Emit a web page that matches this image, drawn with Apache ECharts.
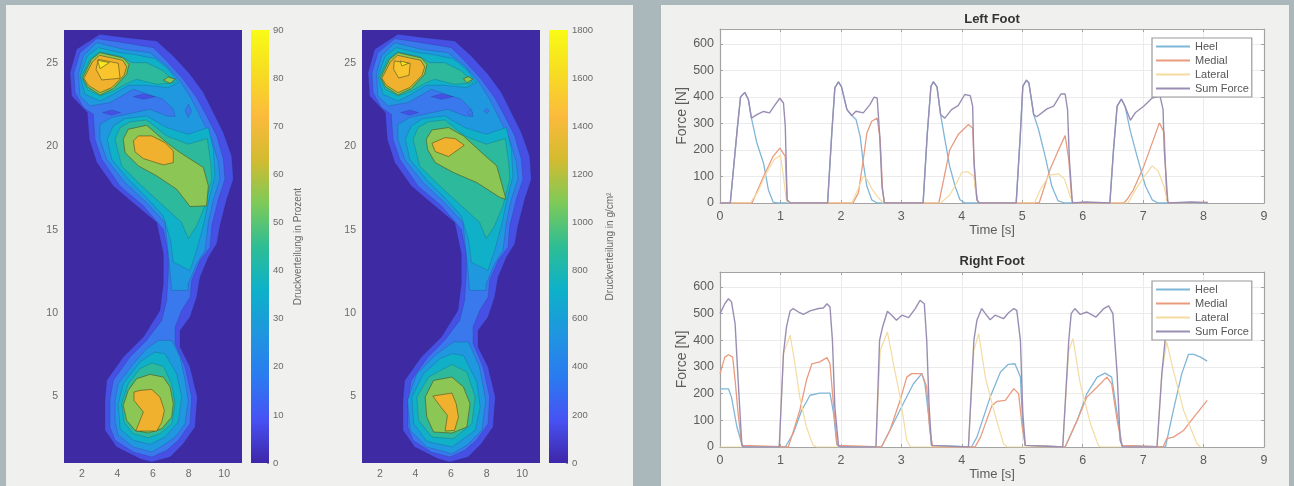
<!DOCTYPE html>
<html><head><meta charset="utf-8">
<style>
html,body{margin:0;padding:0;width:1294px;height:486px;overflow:hidden;background:#aab7bb}
.p{position:absolute;top:5px;height:481px;background:#f0f1ef}
#main{position:absolute;left:0;top:0;width:1294px;height:486px}
</style>
<script src="https://cdn.jsdelivr.net/npm/echarts@6/dist/echarts.min.js"></script>
</head><body>
<div class="p" style="left:6px;width:627px"></div>
<div class="p" style="left:661px;width:628px"></div>
<div id="main"></div>
<script>
// ---------- contour outlines, in foot-map data units (x, y) ----------
const outline10 = [[3.02,26.74],[4.52,26.54],[6.21,26.34],[7.14,25.44],[8.08,24.34],[8.83,23.24],[9.39,22.04],[9.95,20.84],[10.42,19.44],[10.51,18.04],[10.14,16.84],[9.76,15.24],[9.58,14.16],[9.11,13.36],[8.64,12.16],[8.45,10.96],[8.08,9.76],[7.52,8.96],[7.52,7.96],[8.08,6.76],[8.49,4.96],[8.36,3.16],[7.70,2.16],[6.96,1.36],[5.93,1.06],[5.27,1.26],[3.96,1.96],[3.30,2.96],[3.30,4.76],[3.40,5.96],[4.33,7.36],[5.46,8.56],[6.39,10.16],[6.58,11.76],[6.58,13.56],[6.21,15.44],[5.08,16.44],[3.77,17.64],[2.84,19.04],[2.42,20.44],[2.31,22.04],[1.43,23.04],[1.34,24.44],[1.71,25.84]];
const outline20 = [[2.84,26.48],[4.33,26.24],[6.02,25.94],[6.77,25.14],[7.70,24.04],[8.45,22.94],[9.01,21.84],[9.58,20.64],[9.95,19.24],[10.04,18.04],[9.67,16.84],[9.30,15.24],[9.20,13.96],[8.64,13.16],[8.17,11.96],[8.08,10.96],[7.61,10.16],[7.24,9.16],[7.24,8.16],[7.80,6.76],[8.17,4.96],[8.08,3.36],[7.42,2.36],[6.77,1.76],[5.93,1.36],[4.90,1.66],[3.87,2.36],[3.58,3.16],[3.58,4.76],[3.77,5.96],[4.71,7.36],[5.64,8.36],[6.49,9.56],[6.77,10.76],[6.86,12.36],[6.86,13.56],[6.58,15.04],[5.46,16.44],[4.15,17.64],[3.12,19.24],[2.74,20.44],[2.65,21.94],[2.09,22.34],[1.62,23.24],[1.56,24.44],[1.90,25.64]];
const patchToe = [[4.90,23.0],[5.46,23.16],[6.17,23.0],[5.46,22.84]];
const patchArch = [[3.17,22.04],[3.68,22.2],[4.18,22.04],[3.68,21.88]];
const upper30 = [[2.84,26.24],[4.33,25.84],[5.83,25.64],[6.77,24.84],[7.52,23.94],[8.17,22.84],[8.73,21.64],[9.30,20.44],[9.67,19.04],[9.76,18.04],[9.39,16.84],[9.11,15.44],[8.92,13.76],[8.45,12.96],[7.98,11.76],[7.98,11.36],[7.05,11.36],[6.90,13.16],[6.67,15.44],[5.64,16.64],[4.43,17.84],[3.40,19.24],[3.02,20.44],[3.02,21.34],[3.68,21.74],[4.52,21.94],[5.83,22.24],[6.77,21.84],[7.24,21.80],[7.14,22.24],[6.58,22.84],[4.90,23.44],[3.58,22.64],[2.46,22.44],[1.90,23.04],[1.81,24.34],[2.09,25.44]];
const ball40 = [[2.93,25.94],[4.15,25.64],[4.90,25.54],[6.11,25.28],[6.86,24.64],[7.42,23.84],[6.86,23.54],[5.64,23.68],[4.61,23.68],[3.77,23.14],[3.02,22.74],[2.18,23.14],[1.90,24.24],[2.31,25.44]];
const mid40 = [[3.43,20.44],[3.77,21.24],[4.43,21.68],[5.64,21.84],[6.77,21.14],[7.98,20.74],[9.11,21.14],[9.39,19.84],[9.48,18.24],[9.11,16.64],[8.83,15.24],[8.45,13.76],[8.08,12.56],[7.14,13.06],[6.99,14.36],[6.58,15.84],[5.64,16.94],[4.61,18.04],[3.68,19.24]];
const ball50 = [[2.99,25.68],[4.24,25.40],[4.80,25.04],[5.64,25.04],[6.58,24.54],[7.24,23.84],[6.21,23.74],[5.08,24.04],[4.61,23.84],[3.77,23.34],[3.02,23.04],[2.31,23.44],[1.99,24.20],[2.46,25.24]];
const mid50 = [[3.87,20.44],[4.15,21.14],[4.71,21.48],[5.64,21.60],[6.77,20.64],[7.98,20.14],[9.05,20.48],[9.24,19.04],[9.30,18.04],[8.92,16.44],[8.45,15.24],[7.98,14.48],[7.61,15.44],[6.39,16.64],[5.27,17.74],[4.24,18.84]];
const ball60 = [[3.02,25.64],[4.33,25.32],[4.65,24.94],[4.52,24.34],[3.77,23.48],[3.02,23.10],[2.31,23.60],[2.05,24.14],[2.55,25.24]];
const ball70 = [[2.99,25.48],[4.30,25.18],[4.52,24.78],[4.37,24.28],[3.68,23.54],[3.02,23.24],[2.37,23.68],[2.12,24.10],[2.59,25.08]];

// first foot map (Prozent)
const spotA = [[7.98,22.54],[8.17,22.14],[7.98,21.74],[7.80,22.14]];
const heelA30 = [[6.30,8.36],[7.05,8.36],[7.52,7.36],[7.80,5.96],[7.98,4.76],[7.80,3.36],[7.24,2.56],[6.58,2.06],[5.93,1.66],[4.90,1.96],[4.05,2.66],[3.87,3.46],[3.87,4.76],[4.05,5.76],[4.90,6.96],[5.64,7.86]];
const heelA40 = [[6.11,7.66],[6.67,7.56],[7.33,6.36],[7.61,4.96],[7.42,3.46],[6.67,2.56],[5.83,2.12],[4.90,2.36],[4.15,3.06],[4.05,4.56],[4.33,5.76],[5.27,7.06]];
const heelA50 = [[5.93,7.00],[6.58,6.80],[7.05,5.76],[7.24,4.56],[7.05,3.36],[6.39,2.76],[5.74,2.52],[4.90,2.76],[4.37,3.46],[4.24,4.56],[4.61,5.76],[5.27,6.66]];
const heelA60 = [[5.83,6.32],[6.58,6.16],[6.96,5.56],[7.14,4.56],[7.05,3.76],[6.49,3.06],[5.74,2.80],[4.99,2.96],[4.52,3.56],[4.33,4.46],[4.61,5.36],[5.08,6.06]];
const heelA70 = [[4.93,5.26],[5.27,5.36],[5.93,5.42],[6.39,4.96],[6.64,4.16],[6.49,3.46],[6.21,2.92],[5.03,2.92],[5.46,4.06],[4.93,4.76]];
const midA60 = [[4.33,20.44],[4.61,21.04],[5.64,21.28],[6.77,20.24],[7.52,19.64],[8.83,18.74],[9.11,17.64],[9.01,16.44],[8.08,16.40],[7.33,17.44],[6.21,18.24],[5.18,18.84],[4.43,19.64]];
const midA70 = [[4.90,20.34],[5.18,20.64],[5.93,20.64],[6.67,20.24],[7.14,19.74],[7.14,19.04],[6.58,18.90],[5.46,19.28],[4.99,19.68]];
const toeA60 = [[6.86,24.18],[7.24,24.04],[6.96,23.80],[6.58,23.98]];
const ballA80 = [[2.93,25.24],[4.05,25.00],[4.15,24.10],[3.12,24.00],[2.80,24.64]];
const peakA = [[2.89,25.18],[3.55,25.04],[3.02,24.68]];

// second foot map (g/cm²)
const dotB1 = [[6.9,22.04],[7.07,22.2],[7.24,22.04],[7.07,21.88]];
const dotB2 = [[7.85,22.14],[8.0,22.3],[8.15,22.14],[8.0,21.98]];
const heelB30 = [[6.14,8.26],[6.98,8.26],[7.60,6.76],[7.95,4.76],[7.73,2.96],[6.89,2.06],[6.05,1.56],[4.64,1.96],[3.71,2.96],[3.56,4.76],[4.08,6.36],[5.21,7.56]];
const heelB40 = [[6.05,7.56],[6.70,7.46],[7.45,5.86],[7.64,4.36],[7.36,2.96],[6.05,1.96],[4.64,2.30],[3.90,3.36],[3.80,4.96],[4.46,6.36],[5.39,7.26]];
const heelB50 = [[6.05,6.92],[6.89,6.46],[7.36,4.96],[7.17,3.36],[6.14,2.46],[4.93,2.56],[4.18,3.56],[4.08,4.96],[4.74,6.16]];
const heelB60 = [[5.02,5.96],[6.05,6.16],[6.70,5.56],[7.07,4.56],[6.89,3.16],[6.05,2.80],[5.02,2.86],[4.64,3.76],[4.55,4.96]];
const heelB70 = [[4.98,5.02],[6.05,5.20],[6.29,4.56],[6.42,3.76],[6.20,2.96],[5.67,2.92],[5.80,3.86],[5.36,4.46]];
const midB60 = [[4.61,20.44],[4.93,21.0],[5.86,21.14],[6.70,20.64],[7.82,19.54],[8.57,18.84],[9.09,16.84],[8.76,16.94],[7.45,17.84],[6.14,18.44],[5.11,19.04],[4.68,19.84]];
const midB70 = [[4.93,20.2],[5.67,20.54],[6.23,20.48],[6.74,20.08],[5.86,19.4],[5.11,19.7]];
const toeB60 = [[6.70,24.08],[6.98,24.2],[7.22,24.04],[6.89,23.84]];
const ballB80 = [[2.81,25.14],[3.71,25.0],[3.64,24.28],[3.06,24.12],[2.78,24.64]];
const peakB = [[3.15,25.14],[3.62,25.0],[3.24,24.84]];

// paint order: [band index, outline]
const layersA = [[1,outline10],[2,outline20],[1,patchToe],[1,patchArch],[3,upper30],[3,heelA30],[2,spotA],[4,ball40],[4,mid40],[4,heelA40],[5,ball50],[5,mid50],[5,heelA50],[6,ball60],[6,midA60],[6,heelA60],[6,toeA60],[7,ball70],[7,midA70],[7,heelA70],[8,ballA80],[9,peakA]];
const layersB = [[1,outline10],[2,outline20],[1,patchToe],[1,patchArch],[3,upper30],[3,heelB30],[2,dotB1],[2,dotB2],[4,ball40],[4,mid40],[4,heelB40],[5,ball50],[5,mid50],[5,heelB50],[6,ball60],[6,midB60],[6,heelB60],[6,toeB60],[7,ball70],[7,midB70],[7,heelB70],[8,ballB80],[9,peakB]];
const bandColors = ['#3e2aa2','#4650e4','#3a78ee','#1f98e0','#0fb0c8','#2cb99c','#8cc655','#f0b22e','#f8c62c','#f6e822'];
const parulaStops = ['#3e26a8','#4752f4','#2a7bf0','#1f96df','#0db1c9','#2ebd94','#7dca59','#d3bb30','#fcba3d','#f6dc22','#f9fb15'];

// ---------- axis ticks ----------
const mapXTicks = [2,4,6,8,10];
const mapYTicks = [5,10,15,20,25];
const legendNames = ['Heel','Medial','Lateral','Sum Force'];

// ---------- forces, [time s, force N] ----------
const leftHeel = [[0,0],[0.17,0],[0.29,290],[0.34,400],[0.41,417],[0.47,390],[0.52,320],[0.61,226],[0.72,150],[0.80,50],[0.88,3],[0.95,0],[1.78,0],[1.85,265],[1.90,434],[1.96,457],[2.01,438],[2.10,352],[2.18,330],[2.25,315],[2.32,250],[2.37,150],[2.43,63],[2.51,12],[2.60,0],[3.36,0],[3.43,264],[3.49,440],[3.53,457],[3.59,438],[3.65,333],[3.72,240],[3.80,138],[3.89,63],[3.97,12],[4.05,0],[4.90,0],[4.97,264],[5.01,440],[5.07,463],[5.11,453],[5.19,333],[5.27,277],[5.38,176],[5.49,63],[5.59,9],[5.70,0],[6.45,0],[6.51,200],[6.57,365],[6.64,392],[6.70,365],[6.79,270],[6.90,176],[7.04,63],[7.15,12],[7.25,0],[8.07,0]];
const leftMedial = [[0,0],[0.53,0],[0.55,10],[0.72,100],[0.88,176],[0.99,207],[1.08,176],[1.11,12],[1.15,0],[2.20,0],[2.29,38],[2.37,163],[2.43,264],[2.51,308],[2.60,320],[2.65,239],[2.69,50],[2.72,0],[3.62,0],[3.70,88],[3.80,200],[3.94,258],[4.11,296],[4.18,283],[4.22,63],[4.27,0],[5.28,0],[5.46,126],[5.60,200],[5.71,254],[5.77,164],[5.82,12],[5.85,0],[6.68,0],[6.73,12],[6.84,50],[7.01,138],[7.17,239],[7.27,302],[7.35,264],[7.39,12],[7.43,0],[8.07,3]];
const leftLateral = [[0,0],[0.5,0],[0.62,40],[0.75,105],[0.9,165],[1.0,180],[1.05,100],[1.1,5],[1.15,0],[2.18,0],[2.28,50],[2.37,100],[2.43,90],[2.52,50],[2.62,20],[2.7,0],[3.65,0],[3.8,30],[3.9,70],[4.0,115],[4.1,118],[4.2,100],[4.25,10],[4.3,0],[5.2,0],[5.3,50],[5.45,105],[5.6,110],[5.7,90],[5.8,20],[5.85,0],[6.75,0],[6.9,60],[7.05,110],[7.15,140],[7.25,120],[7.35,60],[7.41,0],[8.07,0]];
const leftSum = [[0,0],[0.17,0],[0.29,290],[0.34,400],[0.41,417],[0.47,390],[0.52,320],[0.61,333],[0.72,345],[0.82,340],[0.91,370],[0.99,395],[1.05,377],[1.08,290],[1.11,12],[1.16,0],[1.78,0],[1.85,265],[1.90,434],[1.96,457],[2.01,438],[2.10,352],[2.18,330],[2.25,346],[2.37,340],[2.48,371],[2.55,399],[2.60,396],[2.64,264],[2.68,63],[2.72,0],[3.36,0],[3.43,264],[3.49,440],[3.53,457],[3.59,438],[3.65,333],[3.72,320],[3.83,352],[3.94,367],[4.05,409],[4.14,405],[4.18,365],[4.20,164],[4.25,12],[4.29,0],[4.90,0],[4.97,264],[5.01,440],[5.07,463],[5.11,453],[5.19,333],[5.24,325],[5.41,355],[5.52,365],[5.64,411],[5.71,411],[5.75,352],[5.78,164],[5.83,0],[6.05,4],[6.45,0],[6.51,200],[6.57,365],[6.64,392],[6.70,365],[6.79,312],[6.87,340],[7.01,365],[7.15,396],[7.28,403],[7.33,352],[7.35,200],[7.41,0],[7.8,4],[8.07,0]];

const rightHeel = [[0,218],[0.14,218],[0.19,187],[0.28,75],[0.36,12],[0.38,0],[1.08,0],[1.21,50],[1.35,137],[1.49,194],[1.65,202],[1.82,202],[1.88,125],[1.93,12],[1.97,0],[2.67,0],[2.81,62],[3.03,162],[3.20,237],[3.34,275],[3.39,237],[3.46,100],[3.50,6],[3.53,0],[4.16,0],[4.25,37],[4.47,187],[4.64,281],[4.77,310],[4.88,312],[4.97,262],[5.01,75],[5.05,6],[5.08,0],[5.71,0],[5.91,100],[6.07,200],[6.24,262],[6.37,277],[6.48,262],[6.57,125],[6.65,6],[6.67,0],[7.37,0],[7.50,137],[7.64,275],[7.75,347],[7.84,347],[7.95,337],[8.06,322]];
const rightMedial = [[0,275],[0.08,337],[0.14,346],[0.21,337],[0.25,250],[0.30,125],[0.36,6],[0.38,0],[1.13,0],[1.21,56],[1.32,137],[1.43,250],[1.52,312],[1.65,319],[1.77,335],[1.82,312],[1.88,150],[1.94,6],[1.97,0],[2.67,0],[2.81,62],[2.98,175],[3.09,262],[3.17,275],[3.34,275],[3.42,225],[3.47,62],[3.52,0],[4.22,0],[4.31,37],[4.50,156],[4.58,171],[4.72,175],[4.86,219],[4.94,200],[5.0,75],[5.05,6],[5.08,0],[5.71,0],[5.91,100],[6.07,187],[6.24,225],[6.40,262],[6.48,237],[6.57,100],[6.65,6],[6.67,0],[7.33,0],[7.39,31],[7.50,37],[7.67,62],[7.84,112],[8.06,175]];
const rightLateral = [[0,0],[0.98,0],[1.05,350],[1.16,419],[1.24,312],[1.32,187],[1.43,75],[1.54,6],[1.6,0],[2.58,0],[2.65,362],[2.77,431],[2.87,312],[2.98,187],[3.09,25],[3.15,0],[4.11,0],[4.20,362],[4.28,425],[4.39,262],[4.53,137],[4.69,12],[4.75,0],[5.67,0],[5.77,362],[5.84,406],[5.96,237],[6.13,87],[6.26,6],[6.3,0],[7.23,0],[7.31,275],[7.39,394],[7.50,287],[7.67,137],[7.89,12],[7.95,0]];
const rightSum = [[0,500],[0.08,537],[0.14,556],[0.19,544],[0.25,462],[0.30,250],[0.36,12],[0.38,0],[0.98,0],[1.05,350],[1.10,450],[1.16,510],[1.21,519],[1.30,506],[1.38,497],[1.49,510],[1.63,519],[1.71,521],[1.77,537],[1.82,525],[1.86,400],[1.90,150],[1.96,6],[2.0,0],[2.58,0],[2.64,400],[2.69,450],[2.77,509],[2.84,494],[2.92,475],[3.01,494],[3.12,485],[3.23,519],[3.31,550],[3.38,537],[3.42,400],[3.46,150],[3.50,6],[3.53,0],[4.11,0],[4.20,400],[4.25,475],[4.33,519],[4.39,500],[4.47,477],[4.55,494],[4.69,481],[4.77,502],[4.86,519],[4.91,512],[4.97,400],[5.01,125],[5.05,6],[5.08,0],[5.67,0],[5.77,400],[5.81,500],[5.87,519],[5.96,497],[6.07,506],[6.22,487],[6.35,519],[6.43,529],[6.50,500],[6.57,275],[6.62,25],[6.66,0],[7.23,0],[7.31,275],[7.38,437],[7.45,520],[7.6,510],[7.8,500],[8.07,490]];

const font = '"Liberation Sans", Arial, sans-serif';
const inkSoft = '#6a6a6a', boxColor = '#a3a3a3';

function contourSeries(layers, axis) {
  return {
    type: 'custom', xAxisIndex: axis, yAxisIndex: axis, silent: true, clip: true, z: 2,
    encode: {x: 0, y: 1},
    data: layers.map(l => [l[1][0][0], l[1][0][1], l[0]]),
    renderItem(params, api) {
      const layer = layers[params.dataIndex];
      const band = layer[0];
      return {
        type: 'polygon',
        shape: {points: layer[1].map(p => api.coord(p))},
        style: {
          fill: bandColors[band],
          stroke: band >= 6 ? 'rgba(80,80,30,0.6)' : 'rgba(30,50,110,0.28)',
          lineWidth: band >= 6 ? 1 : 0.8,
          lineJoin: 'round'
        }
      };
    }
  };
}
function colorbarSeries(axis, top) {
  return {
    type: 'bar', xAxisIndex: axis, yAxisIndex: axis, silent: true, barWidth: '100%', z: 1,
    data: [top],
    itemStyle: {color: new echarts.graphic.LinearGradient(0, 1, 0, 0,
      parulaStops.map((c, i) => ({offset: i / (parulaStops.length - 1), color: c})))}
  };
}
function lineSeries(name, data, color, width, axis) {
  return {name, type: 'line', data, xAxisIndex: axis, yAxisIndex: axis, symbol: 'none', z: 3,
    lineStyle: {color, width}, itemStyle: {color}, silent: true};
}
const mapX = {
  type: 'value', min: 1, max: 11,
  axisLine: {show: false}, splitLine: {show: false},
  axisTick: {show: false, customValues: mapXTicks},
  axisLabel: {customValues: mapXTicks, color: inkSoft, fontFamily: font, fontSize: 10.5, margin: 6}
};
const mapY = {
  type: 'value', min: 1, max: 27,
  axisLine: {show: false}, splitLine: {show: false},
  axisTick: {show: false, customValues: mapYTicks},
  axisLabel: {customValues: mapYTicks, color: inkSoft, fontFamily: font, fontSize: 10.5, margin: 6}
};
function barX() { return {type: 'category', data: [''], show: false, boundaryGap: true}; }
function barY(max, interval, name, gap) {
  return {type: 'value', min: 0, max, interval, position: 'right',
    axisLine: {show: false}, splitLine: {show: false},
    axisTick: {show: true, inside: true, length: 2, lineStyle: {color: '#555', width: 0.6}},
    axisLabel: {color: inkSoft, fontFamily: font, fontSize: 9.5, margin: 4, formatter: v => String(v)},
    name, nameLocation: 'middle', nameRotate: 90, nameGap: gap,
    nameTextStyle: {color: inkSoft, fontFamily: font, fontSize: 10}};
}
function timeAxis(pos, labelled) {
  return {type: 'value', min: 0, max: 9, interval: 1, position: pos,
    axisLine: {show: true, onZero: false, lineStyle: {color: boxColor, width: 1.2}},
    axisTick: {show: true, inside: true, length: 3, lineStyle: {color: boxColor}},
    splitLine: {show: labelled, lineStyle: {color: '#ebebeb', width: 1}},
    axisLabel: {show: labelled, color: '#5c5c5c', fontFamily: font, fontSize: 12.5, margin: 7},
    name: labelled ? 'Time [s]' : '', nameLocation: 'middle', nameGap: 20,
    nameTextStyle: {color: '#5c5c5c', fontFamily: font, fontSize: 13}};
}
function forceAxis(pos, labelled) {
  return {type: 'value', min: 0, max: 656, interval: 100, position: pos,
    axisLine: {show: true, onZero: false, lineStyle: {color: boxColor, width: 1.2}},
    axisTick: {show: true, inside: true, length: 3, lineStyle: {color: boxColor}},
    splitLine: {show: labelled, showMaxLine: false, lineStyle: {color: '#ebebeb', width: 1}},
    axisLabel: {show: labelled, showMaxLabel: false, color: '#5c5c5c', fontFamily: font, fontSize: 12.5, margin: 6},
    name: labelled ? 'Force [N]' : '', nameLocation: 'middle', nameRotate: 90, nameGap: 31,
    nameTextStyle: {color: '#5c5c5c', fontFamily: font, fontSize: 14}};
}
function legendAt(top) {
  return {orient: 'vertical', left: 1152, top, data: legendNames, itemWidth: 34, itemHeight: 11, itemGap: 3, padding: [3, 3, 3, 3],
    backgroundColor: '#ffffff', borderColor: '#9a9a9a', borderWidth: 1.2, selectedMode: false,
    itemStyle: {opacity: 0},
    textStyle: {color: '#555', fontFamily: font, fontSize: 11}};
}

const heelColor = '#80b6d8', medialColor = '#e99b80', lateralColor = '#f4dba0', sumColor = '#9a8db4';
const chart = echarts.init(document.getElementById('main'), null, {renderer: 'canvas'});
chart.setOption({
  animation: false,
  backgroundColor: 'transparent',
  title: [
    {text: 'Left Foot', left: 992, top: 13, textAlign: 'center', padding: 0, textStyle: {fontFamily: font, fontSize: 13, fontWeight: 'bold', color: '#333'}},
    {text: 'Right Foot', left: 992, top: 255, textAlign: 'center', padding: 0, textStyle: {fontFamily: font, fontSize: 13, fontWeight: 'bold', color: '#333'}}
  ],
  legend: [legendAt(38), legendAt(281)],
  grid: [
    {left: 64, top: 30, width: 178, height: 433, show: true, backgroundColor: bandColors[0], borderWidth: 0},
    {left: 251, top: 30, width: 18, height: 433},
    {left: 362, top: 30, width: 178, height: 433, show: true, backgroundColor: bandColors[0], borderWidth: 0},
    {left: 549, top: 30, width: 19, height: 433},
    {left: 720, top: 29, width: 544, height: 174, show: true, backgroundColor: '#fff', borderWidth: 0},
    {left: 720, top: 272, width: 544, height: 175, show: true, backgroundColor: '#fff', borderWidth: 0}
  ],
  xAxis: [
    Object.assign({gridIndex: 0}, mapX), Object.assign({gridIndex: 1}, barX()),
    Object.assign({gridIndex: 2}, mapX), Object.assign({gridIndex: 3}, barX()),
    Object.assign({gridIndex: 4}, timeAxis('bottom', true)), Object.assign({gridIndex: 4}, timeAxis('top', false)),
    Object.assign({gridIndex: 5}, timeAxis('bottom', true)), Object.assign({gridIndex: 5}, timeAxis('top', false))
  ],
  yAxis: [
    Object.assign({gridIndex: 0}, mapY), Object.assign({gridIndex: 1}, barY(90, 10, 'Druckverteilung in Prozent', 24)),
    Object.assign({gridIndex: 2}, mapY), Object.assign({gridIndex: 3}, barY(1800, 200, 'Druckverteilung in g/cm²', 37)),
    Object.assign({gridIndex: 4}, forceAxis('left', true)), Object.assign({gridIndex: 4}, forceAxis('right', false)),
    Object.assign({gridIndex: 5}, forceAxis('left', true)), Object.assign({gridIndex: 5}, forceAxis('right', false))
  ],
  series: [
    contourSeries(layersA, 0), colorbarSeries(1, 90),
    contourSeries(layersB, 2), colorbarSeries(3, 1800),
    lineSeries('Heel', leftHeel, heelColor, 1.3, 4),
    lineSeries('Medial', leftMedial, medialColor, 1.3, 4),
    lineSeries('Lateral', leftLateral, lateralColor, 1.2, 4),
    lineSeries('Sum Force', leftSum, sumColor, 1.4, 4),
    lineSeries('Heel', rightHeel, heelColor, 1.3, 6),
    lineSeries('Medial', rightMedial, medialColor, 1.3, 6),
    lineSeries('Lateral', rightLateral, lateralColor, 1.2, 6),
    lineSeries('Sum Force', rightSum, sumColor, 1.4, 6)
  ]
});
</script>
</body></html>
